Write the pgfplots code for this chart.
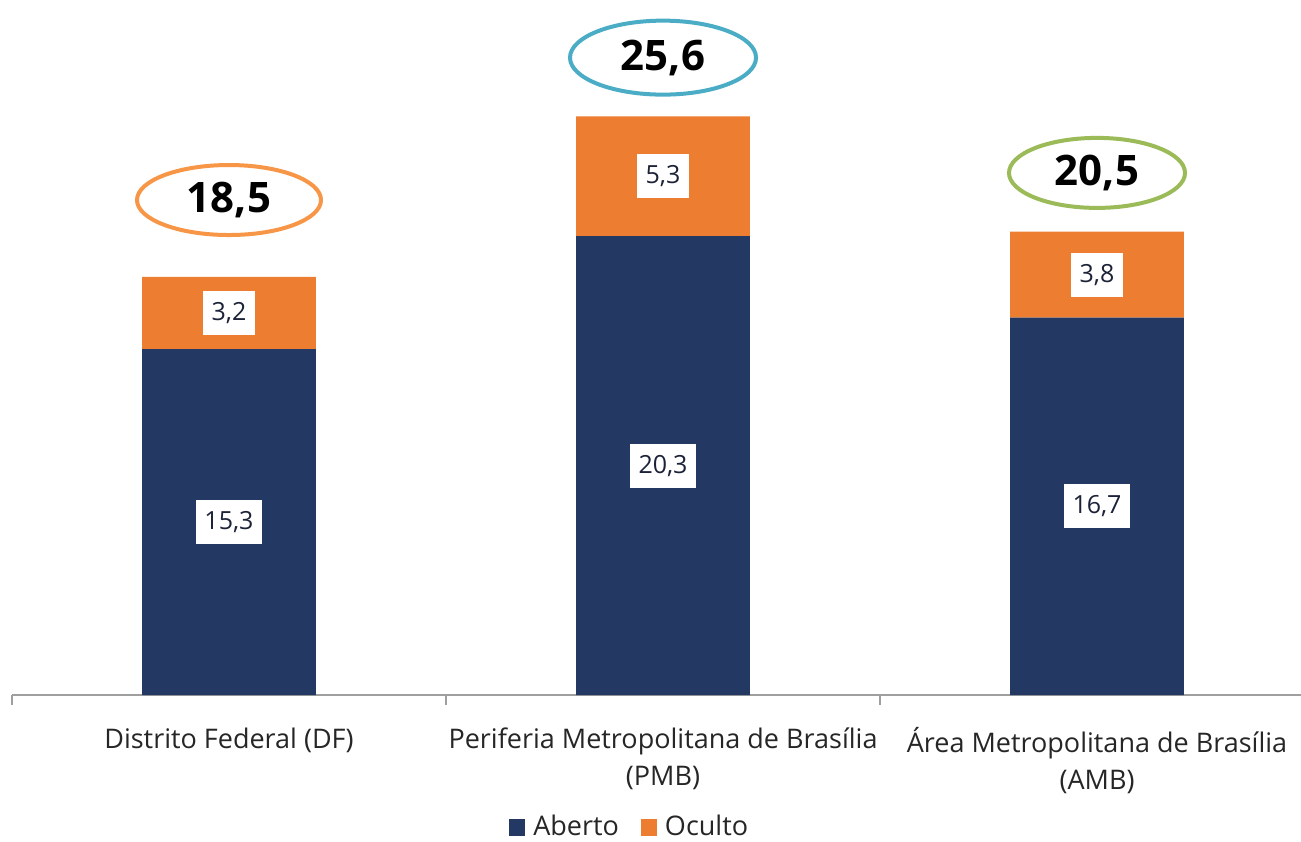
\documentclass[border=0pt]{standalone}
\usepackage{pgfplots}
\pgfplotsset{compat=1.18}
\usepackage{fontspec}
\setmainfont{Open Sans}
\usetikzlibrary{shapes.geometric}
\definecolor{aberto}{HTML}{233862}
\definecolor{oculto}{HTML}{ED7D31}
\definecolor{labtxt}{HTML}{1C2238}
\definecolor{ellor}{HTML}{F79646}
\definecolor{ellbl}{HTML}{4BACC6}
\definecolor{ellgr}{HTML}{9BBB59}
\begin{document}
\begin{tikzpicture}
\begin{axis}[
  scale only axis, width=644.5pt, height=347.5pt,
  xmin=-0.5, xmax=2.47, ymin=0, ymax=30.75,
  ybar stacked, bar width=0.4,
  axis x line=bottom, axis y line=none,
  axis line style={-, draw=gray!75, line width=0.8pt},
  xtick={0,1,2},
  xticklabels={{Distrito Federal (DF)},{Periferia Metropolitana de Brasília\\(PMB)},{Área Metropolitana de Brasília\\(AMB)}},
  xticklabel style={align=center, font=\fontsize{13.5}{18.5}\selectfont, text=black!85, yshift=-8.5pt},
  major x tick style={draw=none},
  minor xtick={-0.5,0.5,1.5,2.5},
  minor tick length=5pt,
  minor x tick style={draw=gray!75, line width=0.8pt},
  xtick align=outside,
  ytick=\empty,
  clip=false,
  /pgf/number format/use comma,
  /pgf/number format/fixed,
  /pgf/number format/fixed zerofill,
  /pgf/number format/precision=1,
  /pgf/number format/assume math mode=true,
  point meta=rawy,
  nodes near coords,
  every node near coord/.append style={anchor=center, fill=white, text=labtxt, font=\fontsize{12.5}{14}\selectfont, inner xsep=4.2pt, inner ysep=0pt, minimum height=22pt},
  legend style={at={(0.48,0)}, anchor=center, yshift=-66pt, draw=none, legend columns=-1, font=\fontsize{13.5}{15}\selectfont, text=black!85, /tikz/every odd column/.append style={column sep=2pt}, /tikz/every even column/.append style={column sep=9pt}},
  legend image code/.code={\fill[#1] (0pt,-4.5pt) rectangle (8pt,4pt);},
]
\addplot[fill=aberto, draw=none] coordinates {(0,15.3) (1,20.3) (2,16.7)};
\addlegendentry{Aberto}
\addplot[fill=oculto, draw=none] coordinates {(0,3.2) (1,5.3) (2,3.8)};
\addlegendentry{Oculto}
\node[draw=ellor, line width=2pt, ellipse, minimum width=92pt, minimum height=35pt, inner sep=0pt, font=\bfseries\fontsize{21}{21}\selectfont] at (axis cs:0,21.9) {18,5};
\node[draw=ellbl, line width=2pt, ellipse, minimum width=93pt, minimum height=37pt, inner sep=0pt, font=\bfseries\fontsize{21}{21}\selectfont] at (axis cs:1,28.2) {25,6};
\node[draw=ellgr, line width=2pt, ellipse, minimum width=88pt, minimum height=35pt, inner sep=0pt, font=\bfseries\fontsize{21}{21}\selectfont] at (axis cs:2,23.1) {20,5};
\coordinate (bl) at (rel axis cs:0,0);
\coordinate (tr) at (rel axis cs:1,1);
\end{axis}
\pgfresetboundingbox
\path[use as bounding box] ([shift={(-6pt,-73pt)}]bl) rectangle (tr);
\end{tikzpicture}
\end{document}
